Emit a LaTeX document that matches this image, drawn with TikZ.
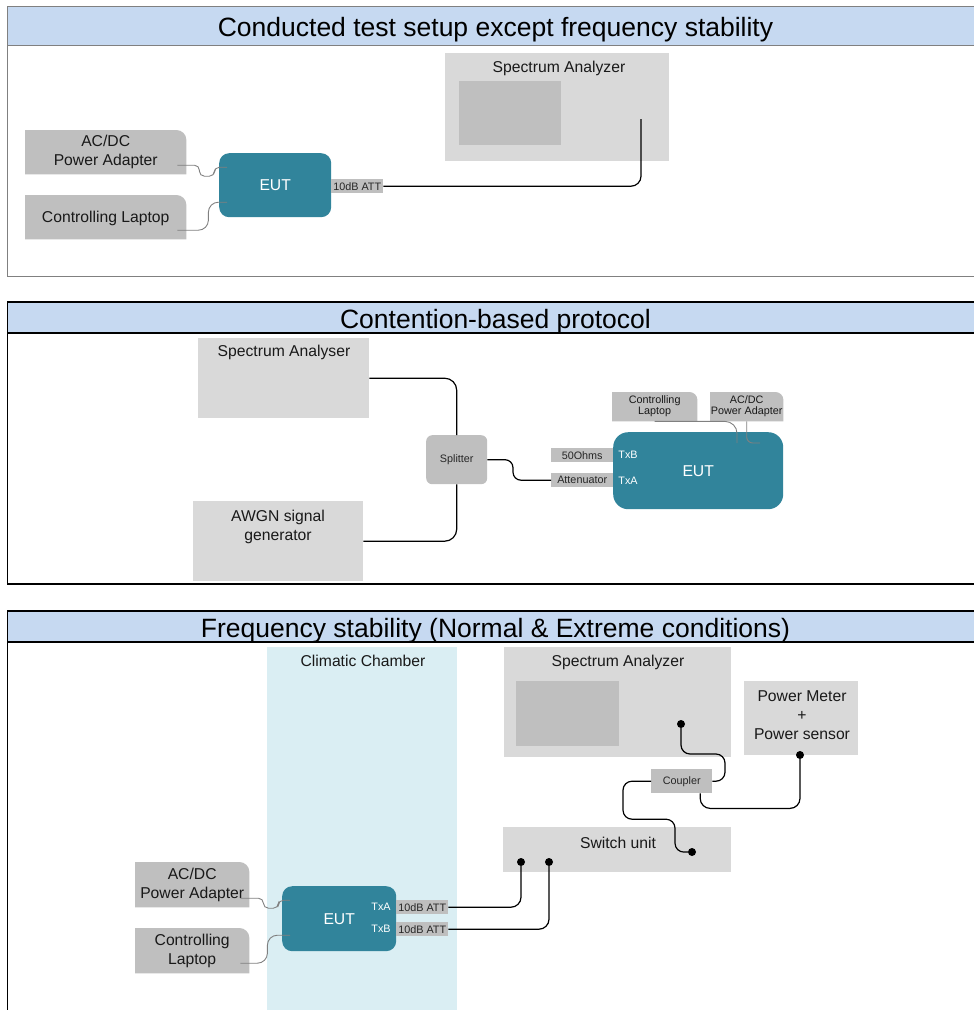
\documentclass[tikz,border=0pt]{standalone}
\usepackage{fontspec}
\setmainfont{Liberation Sans}
\usetikzlibrary{positioning,backgrounds,calc}
\definecolor{titleblue}{HTML}{C6D9F1}
\definecolor{boxgray}{HTML}{BFBFBF}
\definecolor{devgray}{HTML}{D9D9D9}
\definecolor{eutteal}{HTML}{31849B}
\definecolor{chamberblue}{HTML}{DAEEF3}
\definecolor{cablegray}{HTML}{808080}
\newcommand\diagtitle{\fontsize{26.5}{30}\selectfont}
\newcommand\diagbig{\fontsize{15.7}{19}\selectfont}
\newcommand\diagsmall{\fontsize{10.8}{11}\selectfont}
\newcommand\tabfill[2][10]{%
  \begin{pgfonlayer}{background}
    \fill[boxgray] (#2.south west) -- (#2.north west) -- ($(#2.north east)+(-#1,0)$)
      arc[start angle=90,end angle=0,radius=#1pt] -- (#2.south east) -- cycle;
  \end{pgfonlayer}}

\begin{document}
\begin{tikzpicture}[x=1pt,y=-1pt,
  dims/.style 2 args={minimum width=#1pt,minimum height=#2pt},
  box/.style={rectangle,inner sep=0,anchor=north west},
  device/.style={box,fill=devgray},
  screen/.style={box,fill=boxgray},
  tab/.style={box,align=center,font=\diagbig,text=black!90},
  eut/.style={box,fill=eutteal,rounded corners=10pt,text=white,font=\diagbig},
  part/.style={box,fill=boxgray,font=\diagsmall,text=black!85},
  port/.style={text=white,font=\diagsmall,inner sep=0},
  devtext/.style={font=\diagbig,inner sep=0,align=center,text=black!90},
  jack/.style={circle,fill=black,inner sep=0,minimum size=8pt},
  coax/.style={line width=1.2pt,rounded corners=10pt},
  cable/.style={draw=cablegray,line width=0.9pt,rounded corners=5pt}]
\useasboundingbox (0,0) rectangle (974,1010);
\clip (0,0) rectangle (974,1010);

\foreach \ytop/\ybar/\ybot/\ybase/\col/\lw/\txt in {
  6/45/276/36.5/cablegray/1pt/{Conducted test setup except frequency stability},
  302/333/584/328.3/black/1.6pt/{Contention-based protocol},
  611/642/1030/637.3/black/1.6pt/{Frequency stability (Normal \& Extreme conditions)}} {
  \draw[draw=\col,line width=\lw] (7.5,\ytop) rectangle (984,\ybot);
  \filldraw[fill=titleblue,draw=\col,line width=\lw] (7.5,\ytop) rectangle (984,\ybar);
  \node[font=\diagtitle,anchor=base,inner sep=0] (title-\ytop) at (495.5,\ybase) {\txt};
}

\node[device,dims={224}{108}] (sa1) at (445,53) {};
\node[screen,dims={102}{64}] (scr1) at (459,81) {};
\node[devtext] (sa1-txt) at (559,68) {Spectrum Analyzer};
\node[tab,dims={161}{44}] (ac1) at (25,130) {AC/DC\\Power Adapter};
\tabfill{ac1}
\node[tab,dims={161}{44},text depth=0pt] (lap1) at (25,195) {Controlling Laptop};
\tabfill{lap1}
\node[eut,dims={112}{64}] (eut1) at (219,153) {EUT};
\node[part,dims={52}{14}] (att1) at (331,179) {10dB ATT};
\coordinate (sa1-in) at (641,119);
\draw[coax] (att1.east) -| (sa1-in);
\draw[cable] ($(ac1.east)+(-9,13)$) -| ++(22,11) -| ++(15,-9) -- ($(eut1.west)+(8,-18)$);
\draw[cable,rounded corners=10pt] ($(lap1.east)+(-9,13)$) -| ++(31,-28) -- ($(eut1.west)+(8,17)$);

\node[device,dims={171}{80}] (sa2) at (198,338) {};
\node[devtext] (sa2-txt) at (284,352) {Spectrum Analyser};
\node[device,dims={170}{80}] (awgn) at (193,501) {};
\node[devtext] (awgn-txt) at (278,527) {AWGN signal\\generator};
\node[part,dims={61}{49},rounded corners=6pt] (split) at (426,435) {Splitter};
\node[part,dims={62}{14}] (ohm) at (551,448) {50Ohms};
\node[part,dims={62}{14}] (attn) at (551,473) {Attenuator};
\node[eut,dims={170}{77},rounded corners=15pt] (eut2) at (613,432) {EUT};
\node[port] (txb2) at (628,455) {TxB};
\node[port] (txa2) at (628,481) {TxA};
\node[tab,dims={85}{29},font=\diagsmall] (lap2) at (612,392) {Controlling\\Laptop};
\tabfill[8]{lap2}
\node[tab,dims={73}{29},font=\diagsmall] (ac2) at (710,392) {AC/DC\\Power Adapter};
\tabfill[8]{ac2}
\draw[coax,rounded corners=12pt] (sa2.east) -| (split.north);
\draw[coax,rounded corners=12pt] (awgn.east) -| (split.south);
\draw[coax,rounded corners=8pt] (split.east) -| ($(attn.west)+(-38,0)$) -- (attn.west);
\coordinate (eut2-lan) at (737,443);
\coordinate (eut2-dc) at (760,443);
\draw[cable,rounded corners=12pt] (lap2.south) -| (eut2-lan);
\draw[cable,rounded corners=6pt] (ac2.south) |- (eut2-dc);

\node[box,fill=chamberblue,dims={190}{380}] (chamber) at (267,647) {};
\node[devtext] (chamber-txt) at (363,661) {Climatic Chamber};
\node[device,dims={227}{110}] (sa3) at (504,647) {};
\node[screen,dims={103}{65}] (scr3) at (516,681) {};
\node[devtext] (sa3-txt) at (618,662) {Spectrum Analyzer};
\node[device,dims={114}{74}] (pm) at (744,681) {};
\node[devtext] (pm-txt) at (802,715) {Power Meter\\+\\Power sensor};
\node[part,dims={61}{24}] (coup) at (651,769) {Coupler};
\node[device,dims={228}{45}] (sw) at (503,827) {};
\node[devtext] (sw-txt) at (618,843) {Switch unit};
\node[eut,dims={114}{65}] (eut3) at (282,886) {EUT};
\node[port] (txa3) at (381,907) {TxA};
\node[port] (txb3) at (381,929) {TxB};
\node[part,dims={52}{14}] (att3a) at (396,900) {10dB ATT};
\node[part,dims={52}{14}] (att3b) at (396,922) {10dB ATT};
\node[tab,dims={114}{45}] (ac3) at (135,862) {AC/DC\\Power Adapter};
\tabfill{ac3}
\node[tab,dims={114}{45}] (lap3) at (135,928) {Controlling\\Laptop};
\tabfill{lap3}
\foreach \n/\x/\y in {swa/521/862,swb/549/862,swc/692/852,sa3-in/681/724,pm-in/800/755}
  \node[jack] (\n) at (\x,\y) {};
\draw[coax] (att3a.east) -| (swa);
\draw[coax] (att3b.east) -| (swb);
\draw[coax,rounded corners=9pt] (sa3-in) |- ++(44,30) |- (coup.east);
\draw[coax] ($(coup.south)+(18.5,0)$) -- ++(0,15) -| (pm-in);
\draw[coax,rounded corners=9pt] (coup.west) -| ++(-28,38) -| ++(52,33) -- (swc);
\draw[cable] ($(ac3.east)+(-9,13.5)$) -| ++(23,10) -| ++(15,-8) -- ($(eut3.west)+(8,-18.5)$);
\draw[cable,rounded corners=10pt] ($(lap3.east)+(-9,12.5)$) -| ++(27,-28) -- ($(eut3.west)+(8,16.5)$);
\end{tikzpicture}
\end{document}
